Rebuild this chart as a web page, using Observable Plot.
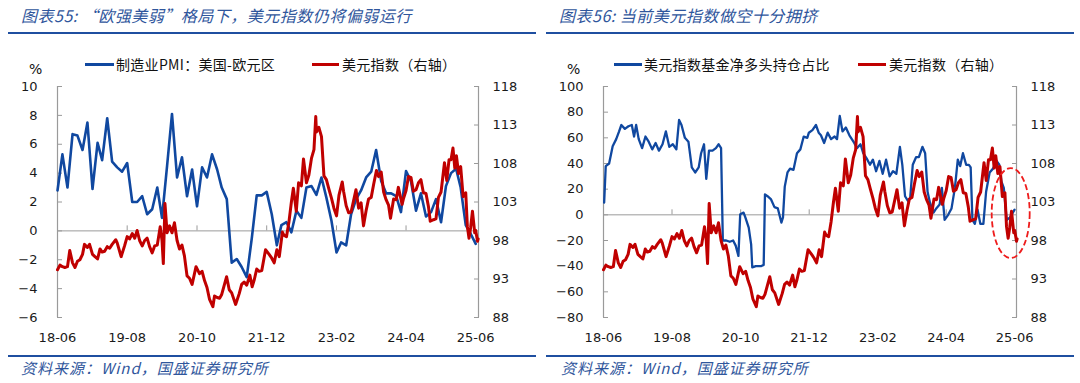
<!DOCTYPE html>
<html><head><meta charset="utf-8">
<script src="https://cdn.jsdelivr.net/npm/d3@7"></script>
<script src="https://cdn.jsdelivr.net/npm/@observablehq/plot@0.6"></script>
<style>
body{margin:0;background:#fff;width:1080px;height:383px;overflow:hidden;position:relative;font-family:"DejaVu Sans",sans-serif;}
.abs{position:absolute;white-space:nowrap;line-height:1;}
.title{font-family:"Noto Sans CJK SC";font-style:italic;font-size:16px;letter-spacing:0.5px;color:#2f569c;}
.rule{position:absolute;height:2.5px;background:#1f4fa0;}
.leg{font-family:"Noto Sans CJK SC";font-size:14px;letter-spacing:0.3px;color:#111;}
.sw{position:absolute;height:3px;}
.src{font-family:"Noto Sans CJK SC";font-style:italic;font-size:15px;letter-spacing:1px;color:#2f569c;}
.pct{font-family:"DejaVu Sans";font-size:14px;color:#111;}
svg{position:absolute;}
</style></head><body>
<div class="abs title" style="left:21px;top:7px">图表55: “欧强美弱”格局下，美元指数仍将偏弱运行</div>
<div class="rule" style="left:8px;top:31.5px;width:528px"></div>
<div class="abs title" style="left:559px;top:7px">图表56: 当前美元指数做空十分拥挤</div>
<div class="rule" style="left:546px;top:31.5px;width:528px"></div>

<div class="abs pct" style="left:29px;top:62px">%</div>
<div class="sw" style="left:85px;top:63px;width:29px;background:#1048a0"></div>
<div class="abs leg" style="left:116px;top:57px">制造业PMI：美国-欧元区</div>
<div class="sw" style="left:312px;top:63px;width:27px;background:#c00000"></div>
<div class="abs leg" style="left:342px;top:57px">美元指数（右轴）</div>

<div class="abs pct" style="left:567px;top:62px">%</div>
<div class="sw" style="left:614px;top:63px;width:28px;background:#1048a0"></div>
<div class="abs leg" style="left:644px;top:57px">美元指数基金净多头持仓占比</div>
<div class="sw" style="left:858px;top:63px;width:28px;background:#c00000"></div>
<div class="abs leg" style="left:889px;top:57px">美元指数（右轴）</div>

<div id="c1" style="position:absolute;left:0;top:70px;width:540px;height:277px"></div>
<div id="c2" style="position:absolute;left:540px;top:70px;width:540px;height:277px"></div>

<div class="rule" style="left:8px;top:354.5px;width:528px"></div>
<div class="rule" style="left:546px;top:354.5px;width:528px"></div>
<div class="abs src" style="left:21px;top:360px">资料来源：Wind，国盛证券研究所</div>
<div class="abs src" style="left:561px;top:360px">资料来源：Wind，国盛证券研究所</div>

<script>
// ---------- data ----------
const xTickLabels = ["2018-06","2019-08","2020-10","2021-12","2023-02","2024-04","2025-06"];

// 制造业PMI：美国-欧元区 (monthly, from 2018-06)
const pmiStartMonth = "2018-06-01";
const pmiValues = [
  2.8,5.3,3.0,6.7,6.6,5.6,7.5,
  2.9,6.1,4.9,7.8,4.8,4.4,4.1,4.7,2.0,2.0,2.4,1.15,
  1.5,3.0,0.9,4.5,8.1,3.7,5.1,2.4,4.25,1.7,4.4,3.7,
  5.3,4.25,3.0,2.2,-2.2,-1.95,-2.5,-3.2,-0.5,2.46,2.46,2.7,
  1.15,-1.0,0.4,0.6,-0.1,1.4,0.9,3.0,3.1,2.5,3.7,2.3,
  0.7,-1.5,-0.8,-1.0,1.15,2.2,2.8,3.7,4.1,5.6,3.45,2.6,
  2.6,2.4,1.3,4.15,3.45,1.4,2.6,1.0,1.3,2.2,0.6,3.1,
  4.0,4.3,3.0,0.4,-0.2,-0.9
];
const pmiTicks = [-6,-4,-2,0,2,4,6,8,10];

// 美元指数 (右轴)
const dxyDates = ["2018-06-01","2018-06-16","2018-07-01","2018-07-16","2018-08-01","2018-08-15","2018-09-01","2018-09-16","2018-10-01","2018-10-16","2018-11-01","2018-11-13","2018-12-01","2018-12-14",
"2019-01-01","2019-01-16","2019-02-01","2019-02-16","2019-03-01","2019-03-16","2019-04-01","2019-04-16","2019-05-01","2019-05-23","2019-06-01","2019-06-25","2019-07-16","2019-08-01","2019-08-16","2019-09-01","2019-09-16","2019-10-01","2019-10-16","2019-11-01","2019-11-16","2019-12-01","2019-12-16",
"2020-01-01","2020-01-16","2020-02-01","2020-02-19","2020-03-01","2020-03-09","2020-03-19","2020-04-01","2020-04-16","2020-05-01","2020-05-16","2020-06-01","2020-06-16","2020-07-01","2020-07-16","2020-08-01","2020-08-16","2020-09-01","2020-09-25","2020-10-16","2020-11-01","2020-11-16","2020-12-01","2020-12-16",
"2021-01-06","2021-01-16","2021-02-01","2021-02-16","2021-03-01","2021-03-31","2021-04-16","2021-05-01","2021-05-25","2021-06-16","2021-07-01","2021-07-16","2021-08-01","2021-08-20","2021-09-03","2021-09-16","2021-10-01","2021-10-16","2021-11-01","2021-11-24","2021-12-16",
"2022-01-01","2022-01-16","2022-02-01","2022-02-16","2022-03-07","2022-03-16","2022-04-01","2022-04-16","2022-05-01","2022-05-13","2022-05-31","2022-06-14","2022-07-01","2022-07-14","2022-08-01","2022-08-16","2022-09-01","2022-09-16","2022-09-27","2022-10-01","2022-10-16","2022-11-01","2022-11-16","2022-12-01","2022-12-16",
"2023-01-01","2023-01-16","2023-02-01","2023-02-16","2023-03-08","2023-03-16","2023-04-01","2023-04-16","2023-05-01","2023-05-31","2023-06-16","2023-07-01","2023-07-16","2023-08-01","2023-08-16","2023-09-01","2023-09-16","2023-10-03","2023-10-16","2023-11-01","2023-11-16","2023-12-01","2023-12-16","2023-12-28",
"2024-01-16","2024-02-01","2024-02-14","2024-03-08","2024-03-16","2024-04-01","2024-04-16","2024-05-01","2024-05-16","2024-06-01","2024-06-16","2024-07-01","2024-07-16","2024-08-01","2024-08-16","2024-08-27","2024-09-16","2024-10-01","2024-10-16","2024-11-01","2024-11-22","2024-12-06","2024-12-20",
"2025-01-01","2025-01-13","2025-01-24","2025-02-03","2025-02-16","2025-03-01","2025-03-16","2025-04-01","2025-04-11","2025-04-21","2025-05-01","2025-05-12","2025-05-26","2025-06-01","2025-06-12","2025-06-16"];
const dxyValues = [94.2,94.8,94.6,94.5,94.6,96.7,95.1,94.5,95.3,95.5,96.2,97.5,97.1,97.5,
96.2,95.9,95.6,96.9,96.5,96.6,97.2,97.0,97.5,98.1,97.7,95.9,97.3,98.5,98.2,98.9,98.3,99.3,98.0,97.3,98.0,98.3,97.2,
96.4,97.3,97.4,99.8,98.0,95.0,102.8,99.0,99.9,99.0,100.3,98.0,96.9,97.4,96.0,93.4,93.1,92.3,94.6,93.7,94.0,92.8,91.9,90.4,
89.4,90.8,90.6,90.5,91.0,93.3,91.6,91.2,89.7,91.1,92.3,92.6,92.2,93.5,92.0,92.9,94.3,94.0,94.1,96.8,96.2,
95.7,95.1,96.8,95.9,99.1,98.7,98.5,100.4,103.0,104.8,101.8,105.5,105.1,108.6,105.5,106.5,108.7,109.8,114.1,112.1,112.7,111.5,106.4,105.9,104.7,
103.5,102.2,101.2,103.9,105.6,104.4,102.5,101.6,101.7,104.6,102.2,102.9,99.9,101.9,103.4,103.6,105.3,107.1,106.3,106.9,104.3,103.3,102.6,100.9,
103.4,103.3,104.9,102.7,103.4,104.5,106.3,106.2,104.4,104.6,105.5,105.9,104.2,104.1,102.4,100.5,100.7,100.8,103.6,104.3,108.1,105.8,108.5,
108.5,110.0,107.4,109.0,106.7,107.6,103.7,104.2,99.8,98.3,99.7,101.8,99.0,99.3,97.9,98.2];
const dxyTicks = [88,93,98,103,108,113,118];

// 美元指数基金净多头持仓占比 (weekly-ish)
const cftcDates = ["2018-06-05","2018-06-15","2018-07-06","2018-07-28","2018-08-19","2018-09-06","2018-09-20","2018-10-12","2018-11-03","2018-11-24","2018-12-08","2018-12-21","2019-01-06","2019-01-27","2019-02-17","2019-03-09","2019-03-31","2019-04-21","2019-05-12","2019-06-03","2019-06-24","2019-07-15","2019-08-06","2019-08-28","2019-09-14","2019-09-29","2019-10-20","2019-11-11","2019-12-02","2019-12-23","2020-01-14","2020-01-29","2020-02-16","2020-03-01","2020-03-18","2020-04-09","2020-04-30","2020-05-17","2020-06-01","2020-06-12","2020-07-03","2020-07-25","2020-08-15","2020-08-31","2020-09-17","2020-09-28","2020-10-19","2020-10-30","2020-11-20","2020-12-05","2020-12-12","2021-01-03","2021-02-04","2021-02-21","2021-03-01","2021-03-17","2021-04-08","2021-04-29","2021-05-20","2021-06-11","2021-06-21","2021-07-02","2021-07-19","2021-08-04","2021-08-25","2021-09-16","2021-10-07","2021-10-28","2021-11-19","2021-11-29","2021-12-21","2022-01-12","2022-01-29","2022-02-12","2022-03-04","2022-03-26","2022-04-16","2022-05-08","2022-05-23","2022-06-09","2022-06-26","2022-07-17","2022-08-08","2022-08-23","2022-09-07","2022-09-24","2022-10-16","2022-11-02","2022-11-23","2022-12-14","2023-01-01","2023-01-21","2023-02-11","2023-03-03","2023-03-24","2023-04-15","2023-05-06","2023-05-27","2023-06-18","2023-07-03","2023-07-20","2023-08-06","2023-08-21","2023-09-06","2023-09-27","2023-10-14","2023-11-05","2023-11-22","2023-12-07","2023-12-22","2024-01-13","2024-01-30","2024-02-20","2024-03-05","2024-03-22","2024-04-13","2024-05-04","2024-05-25","2024-06-12","2024-06-27","2024-07-14","2024-08-03","2024-08-20","2024-08-31","2024-09-11","2024-09-26","2024-10-13","2024-10-30","2024-11-18","2024-12-05","2024-12-27","2025-01-17","2025-02-08","2025-02-25","2025-03-10","2025-03-25","2025-04-12","2025-05-03","2025-05-31"];
const cftcValues = [9.5,38,40,53.5,59,65,70,67,69,70,61,70,59,52,61,57,51,56,50,55,65,53,55,51,74,70,60,57,37,33,37,48,55,28,50,50,52,55,52,-20,-20,-21,-20,-24,-32,0.5,1.7,-2,-10,-23,-41,-40,-40,-39,16,14.5,12,6,5,-6,-2,22,33,36,35,48,51,61,60,64,66,70,64,62,56,64,59,61,59,77,65,68,62,59,56,52,55,48,44,39,43,34,42,32,43,30,34,32,53,39,14.5,11,13,39,45,45,53,48,18,9.5,1.7,5,8,21,-4,0,5,21,43,38,48,39,39,37,-4,-7,4,-7,-7,18,33,36,42,39,26,21,-4,-2,4];
const cftcTicks = [-80,-60,-40,-20,0,20,40,60,80,100];

// annotation: dashed ellipse around the latest readings (right chart)
const ellipseCenter = {date:"2025-05-10", value:1};

// ---------- build ----------
const BLUE = "#1048a0", RED = "#c00000", GRAY = "#9a9a9a", TXT = "#1a1a1a";
const xStart = new Date("2018-06-01");
const xTicks = xTickLabels.map(s => new Date(s + "-01"));
const pmi = pmiValues.map((v, i) => ({date: d3.utcMonth.offset(new Date(pmiStartMonth), i), v}));
const dxy = dxyDates.map((d, i) => ({date: new Date(d), v: dxyValues[i]}));
const cftc = cftcDates.map((d, i) => ({date: new Date(d), v: cftcValues[i]}));

function chart({yDomain, yTicks, xEnd, series, blueWidth, ml, mr}) {
  const [lo, hi] = yDomain;
  const toL = v => lo + (v - 88) * (hi - lo) / 30;
  const fromL = y => 88 + (y - lo) * 30 / (hi - lo);
  return Plot.plot({
    width: 540, height: 277, marginTop: 16, marginBottom: 30, marginLeft: ml, marginRight: mr,
    style: {fontFamily: "DejaVu Sans, sans-serif", fontSize: "13px", color: TXT, background: "transparent", overflow: "visible"},
    x: {type: "utc", domain: [xStart, new Date(xEnd)]},
    y: {domain: yDomain},
    marks: [
      Plot.ruleY([0], {stroke: GRAY, strokeWidth: 1}),
      Plot.ruleX([xStart], {stroke: GRAY, strokeWidth: 1.2}),
      Plot.ruleX([new Date(xEnd)], {stroke: GRAY, strokeWidth: 1.2}),
      Plot.ruleX(xTicks.slice(1, -1), {x: d => d, y1: 0, y2: 0, insetBottom: 5, stroke: GRAY}),
      Plot.axisY({anchor: "left", ticks: yTicks, tickSize: -5, tickPadding: 25, stroke: GRAY, fill: TXT, label: null}),
      Plot.axisY({anchor: "right", ticks: dxyTicks.map(toL), tickSize: -5, tickPadding: 19,
                  tickFormat: d => String(Math.round(fromL(d))), stroke: GRAY, fill: TXT, label: null}),
      Plot.axisX({ticks: xTicks, tickFormat: d3.utcFormat("%y-%m"), tickSize: 0, tickPadding: 15, fill: TXT, label: null}),
      Plot.line(series, {x: "date", y: "v", stroke: BLUE, strokeWidth: blueWidth, strokeLinejoin: "round"}),
      Plot.line(dxy, {x: "date", y: d => toL(d.v), stroke: RED, strokeWidth: 3, strokeLinejoin: "round"})
    ]
  });
}

const c1 = chart({yDomain: [-6, 10], yTicks: pmiTicks, xEnd: "2025-06-18", series: pmi, blueWidth: 2.6, ml: 57, mr: 62});
document.getElementById("c1").appendChild(c1);

const c2 = chart({yDomain: [-80, 100], yTicks: cftcTicks, xEnd: "2025-06-12", series: cftc, blueWidth: 2.3, ml: 63, mr: 64});
document.getElementById("c2").appendChild(c2);

const sx = c2.scale("x"), sy = c2.scale("y");
d3.select(c2).append("ellipse")
  .attr("cx", sx.apply(new Date(ellipseCenter.date)))
  .attr("cy", sy.apply(ellipseCenter.value))
  .attr("rx", 19).attr("ry", 45)
  .attr("fill", "none").attr("stroke", "#ee1c1c")
  .attr("stroke-width", 1.8).attr("stroke-dasharray", "6,3");
</script>
</body></html>
